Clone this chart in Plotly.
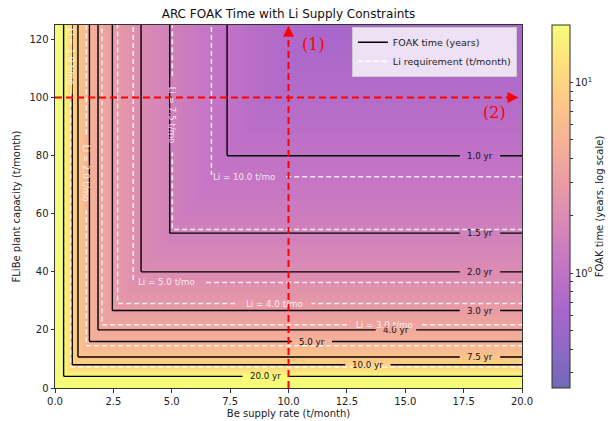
import numpy as np
import plotly.graph_objects as go
from plotly.colors import sample_colorscale

# ---------------- data ----------------
be_time_const = 7.37      # FOAK years x Be supply rate (t/month)
flibe_time_const = 80.0   # FOAK years x FLiBe plant capacity (t/month)
li_const = 11.0           # Li requirement (t/month) x FOAK years
time_levels = [1.0, 1.5, 2.0, 3.0, 4.0, 5.0, 7.5, 10.0, 20.0]
li_levels = [1.0, 2.0, 3.0, 4.0, 5.0, 7.5, 10.0]
cbar_min = 0.25
cbar_max = 20.0
x_ticks = [0, 2.5, 5, 7.5, 10, 12.5, 15, 17.5, 20]
y_ticks = [0, 20, 40, 60, 80, 100, 120]
path1_x = 10.0     # red path (1): vertical at Be = 10 t/month
path2_y = 100.0    # red path (2): horizontal at FLiBe = 100 t/month
x_lim = [0, 20]
y_lim = [0, 125]

# ---------------- label placement (style) ----------------
time_label_x = [18.2, 18.2, 18.2, 18.2, 14.6, 11.0, 18.2, 13.4, 9.0]
li_label_orient = ['v', 'v', 'h', 'h', 'h', 'v', 'h']
li_label_along = [114, 74, 14.1, 9.38, 4.77, 94, 8.09]

FONT = "DejaVu Sans"
ALPHA = 0.6
plasma = ['#0d0887', '#46039f', '#7201a8', '#9c179e', '#bd3786',
          '#d8576b', '#ed7953', '#fb9f3a', '#fdca26', '#f0f921']


def blend(h):
    h = h.lstrip('#')
    r, g, b = (int(h[i:i + 2], 16) for i in (0, 2, 4))
    f = lambda c: int(round(ALPHA * c + (1 - ALPHA) * 255))
    return f"rgb({f(r)},{f(g)},{f(b)})"


cscale = [[i / (len(plasma) - 1), blend(c)] for i, c in enumerate(plasma)]
lo, hi = np.log10(cbar_min), np.log10(cbar_max)


def color_at(t):
    fr = (np.log10(np.clip(t, cbar_min, cbar_max)) - lo) / (hi - lo)
    return sample_colorscale(cscale, [float(fr)])[0]


xs = np.linspace(0.01, 20.05, 400)
ys = np.linspace(0.05, 125.3, 400)
X, Y = np.meshgrid(xs, ys)
T = np.maximum(be_time_const / X, flibe_time_const / Y)
LI = li_const / T
Z = np.log10(np.clip(T, cbar_min, cbar_max))

fig = go.Figure()

minor = [0.3, 0.4, 0.5, 0.6, 0.7, 0.8, 0.9, 2, 3, 4, 5, 6, 7, 8, 9]
cb_vals = [0.0, 1.0] + [float(np.log10(m)) for m in minor]
cb_text = ["10<sup>0</sup>", "10<sup>1</sup>"] + [""] * len(minor)

fig.add_trace(go.Heatmap(
    x=xs, y=ys, z=Z, colorscale=cscale, zmin=lo, zmax=hi, zsmooth='best',
    hoverinfo='skip',
    colorbar=dict(
        x=1.064, xanchor='left', xref='paper', y=0.5, yanchor='middle',
        len=1.0, thickness=18, outlinewidth=1, outlinecolor='#333',
        xpad=0, ypad=0,
        tickvals=cb_vals, ticktext=cb_text, ticks='outside', ticklen=3,
        tickcolor='#333', tickfont=dict(family=FONT, size=10, color='#222'),
        title=dict(text='FOAK time (years, log scale)', side='right',
                   font=dict(family=FONT, size=10, color='#222')),
    ),
))

for lvl in time_levels:
    fig.add_trace(go.Contour(
        x=xs, y=ys, z=T, autocontour=False,
        contours=dict(start=lvl, end=lvl, size=1, coloring='lines', showlabels=False),
        colorscale=[[0, 'black'], [1, 'black']], showscale=False,
        line=dict(width=1.4), hoverinfo='skip', showlegend=False))

for lvl in li_levels:
    fig.add_trace(go.Contour(
        x=xs, y=ys, z=LI, autocontour=False,
        contours=dict(start=lvl, end=lvl, size=1, coloring='lines', showlabels=False),
        colorscale=[[0, 'rgba(255,255,255,0.85)'], [1, 'rgba(255,255,255,0.85)']],
        showscale=False, line=dict(width=1.5, dash='5px,3px'),
        hoverinfo='skip', showlegend=False))

# legend proxies
fig.add_trace(go.Scatter(x=[None], y=[None], mode='lines', name='FOAK time (years)',
                         line=dict(color='black', width=1.5)))
fig.add_trace(go.Scatter(x=[None], y=[None], mode='lines', name='Li requirement (t/month)',
                         line=dict(color='white', width=1.5, dash='5px,3px')))

px_per_x = 467 / 20.0
px_per_y = 363 / 125.0
shapes = []
annotations = []

# contour labels (time)
for lvl, lx in zip(time_levels, time_label_x):
    txt = f"{lvl:.1f} yr"
    ly = flibe_time_const / lvl
    gap = (len(txt) * 4.9 + 11) / px_per_x
    shapes.append(dict(type='rect', xref='x', yref='y', x0=lx - gap / 2, x1=lx + gap / 2,
                       y0=ly - 0.55, y1=ly + 0.55, fillcolor=color_at(lvl),
                       line=dict(width=0), layer='above'))
    annotations.append(dict(x=lx, y=ly, xref='x', yref='y', text=txt, showarrow=False,
                            font=dict(family=FONT, size=8.7, color='#111')))

# contour labels (Li)
for lvl, ori, pos in zip(li_levels, li_label_orient, li_label_along):
    txt = f"Li = {lvl:.1f} t/mo"
    tval = li_const / lvl
    glen = len(txt) * 4.9 + 11
    if ori == 'h':
        lx, ly = pos, flibe_time_const * lvl / li_const
        g = glen / px_per_x
        shapes.append(dict(type='rect', xref='x', yref='y', x0=lx - g / 2, x1=lx + g / 2,
                           y0=ly - 0.6, y1=ly + 0.6, fillcolor=color_at(tval),
                           line=dict(width=0), layer='above'))
        ang = 0
    else:
        lx, ly = be_time_const * lvl / li_const, pos
        g = glen / px_per_y
        shapes.append(dict(type='rect', xref='x', yref='y', x0=lx - 0.07, x1=lx + 0.07,
                           y0=ly - g / 2, y1=ly + g / 2, fillcolor=color_at(tval),
                           line=dict(width=0), layer='above'))
        ang = 90
    annotations.append(dict(x=lx, y=ly, xref='x', yref='y', text=txt, showarrow=False,
                            textangle=ang,
                            font=dict(family=FONT, size=8.7, color='rgba(255,255,255,0.85)')))

# red dashed paths
shapes.append(dict(type='line', xref='x', yref='y', x0=path1_x, x1=path1_x,
                   y0=y_lim[0], y1=y_lim[1] - 2.5, layer='above',
                   line=dict(color='red', width=2, dash='7px,4px')))
shapes.append(dict(type='line', xref='x', yref='y', x0=x_lim[0], x1=x_lim[1] - 0.5,
                   y0=path2_y, y1=path2_y, layer='above',
                   line=dict(color='red', width=2, dash='7px,4px')))
annotations.append(dict(x=path1_x, y=y_lim[1] - 0.3, ax=path1_x, ay=y_lim[1] - 3.5,
                        xref='x', yref='y', axref='x', ayref='y', text='', showarrow=True,
                        arrowhead=2, arrowsize=1.1, arrowwidth=2, arrowcolor='red', standoff=0))
annotations.append(dict(x=x_lim[1] - 0.15, y=path2_y, ax=x_lim[1] - 0.6, ay=path2_y,
                        xref='x', yref='y', axref='x', ayref='y', text='', showarrow=True,
                        arrowhead=2, arrowsize=1.1, arrowwidth=2, arrowcolor='red', standoff=0))
annotations.append(dict(x=11.05, y=118.4, xref='x', yref='y', text='(1)', showarrow=False,
                        font=dict(family='DejaVu Serif', size=16, color='red')))
annotations.append(dict(x=18.84, y=94.8, xref='x', yref='y', text='(2)', showarrow=False,
                        font=dict(family='DejaVu Serif', size=16, color='red')))

axis_common = dict(showline=True, mirror=True, linecolor='#333', linewidth=1,
                   ticks='outside', ticklen=3.5, tickcolor='#333', showgrid=False,
                   zeroline=False, tickfont=dict(family=FONT, size=10, color='#222'))

fig.update_layout(
    width=614, height=421,
    margin=dict(l=55, r=92, t=25, b=33, autoexpand=False),
    paper_bgcolor='white', plot_bgcolor='white',
    title=dict(text='ARC FOAK Time with Li Supply Constraints', x=0.5, xref='paper',
               y=1 - 14 / 421, yref='container', yanchor='middle', xanchor='center',
               font=dict(family=FONT, size=12, color='#111')),
    xaxis=dict(range=x_lim, tickvals=x_ticks, tickformat='.1f',
               title=dict(text='Be supply rate (t/month)', standoff=4,
                          font=dict(family=FONT, size=10, color='#222')), **axis_common),
    yaxis=dict(range=y_lim, tickvals=y_ticks,
               title=dict(text='FLiBe plant capacity (t/month)', standoff=6,
                          font=dict(family=FONT, size=10, color='#222')), **axis_common),
    legend=dict(x=0.989, y=0.995, xanchor='right', yanchor='top',
                bgcolor='rgba(255,255,255,0.8)', bordercolor='#ccc', borderwidth=1,
                font=dict(family=FONT, size=9.5, color='#222'), tracegroupgap=0,
                itemwidth=30),
    shapes=shapes, annotations=annotations,
)

fig.write_html("out.html", config={'displayModeBar': False},
               post_script="document.body.style.margin='0';document.body.style.overflow='hidden';")
